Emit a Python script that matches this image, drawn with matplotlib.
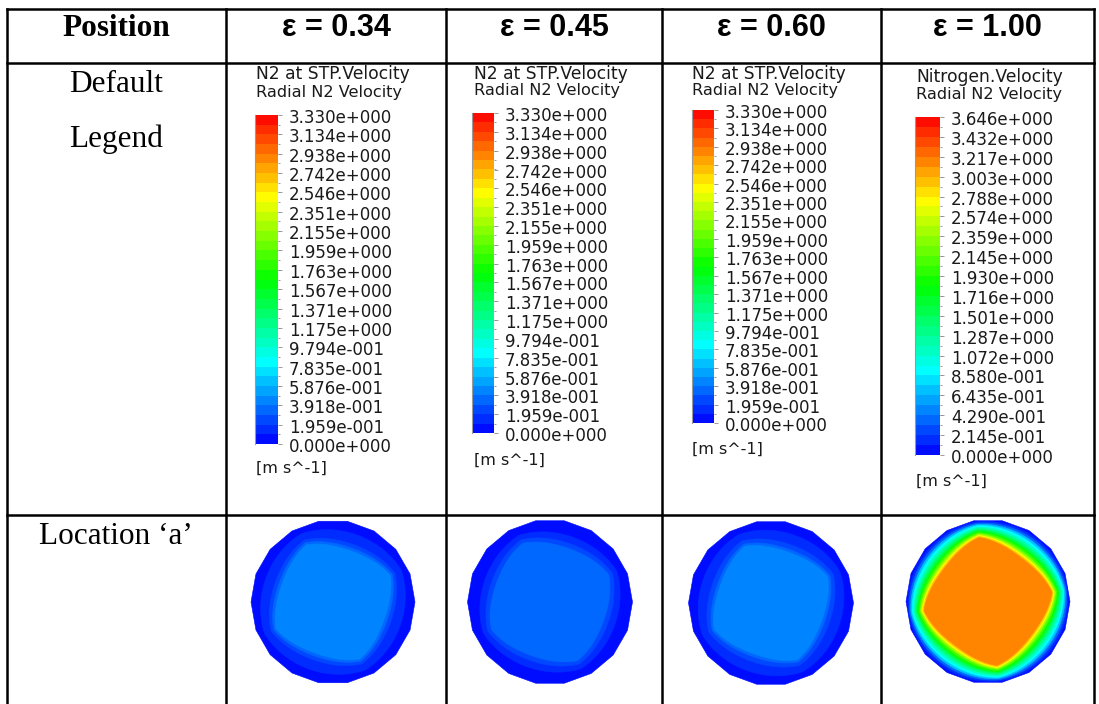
import numpy as np
import matplotlib
matplotlib.use('Agg')
import matplotlib.pyplot as plt
from matplotlib.colors import LinearSegmentedColormap, ListedColormap, BoundaryNorm
from matplotlib.cm import ScalarMappable
from matplotlib.patches import Polygon
from matplotlib.ticker import FixedLocator
from matplotlib.transforms import ScaledTranslation, blended_transform_factory

W, H = 1099, 704

# table text
header_row = ['Position', 'ε = 0.34', 'ε = 0.45', 'ε = 0.60', 'ε = 1.00']
legend_row_label = ['Default', 'Legend']
location_label = 'Location ‘a’'

# legend scales [m/s]
ticks_n2 = [0.0, 0.1959, 0.3918, 0.5876, 0.7835, 0.9794, 1.175, 1.371, 1.567,
            1.763, 1.959, 2.155, 2.351, 2.546, 2.742, 2.938, 3.134, 3.330]
ticks_nitrogen = [0.0, 0.2145, 0.4290, 0.6435, 0.8580, 1.072, 1.287, 1.501, 1.716,
                  1.930, 2.145, 2.359, 2.574, 2.788, 3.003, 3.217, 3.432, 3.646]
legend_titles = [('N2 at STP.Velocity', 'Radial N2 Velocity'),
                 ('N2 at STP.Velocity', 'Radial N2 Velocity'),
                 ('N2 at STP.Velocity', 'Radial N2 Velocity'),
                 ('Nitrogen.Velocity', 'Radial N2 Velocity')]
legend_ticks = [ticks_n2, ticks_n2, ticks_n2, ticks_nitrogen]
unit_label = '[m s^-1]'

# contour bands at location 'a': edge radius of each band (fraction of pipe
# radius) and the velocity inside that edge
bands_034_r = [1.00, 0.90, 0.80, 0.76, 0.73]
bands_034_v = [0.05, 0.15, 0.25, 0.35, 0.45]
bands_045_r = [1.00, 0.87, 0.80, 0.75]
bands_045_v = [0.05, 0.15, 0.25, 0.35]
bands_060_r = [1.00, 0.90, 0.80, 0.75, 0.72]
bands_060_v = [0.05, 0.15, 0.25, 0.35, 0.45]
bands_100_r = [1.00, 0.975, 0.955, 0.935, 0.915, 0.895, 0.875, 0.855, 0.835,
               0.815, 0.795, 0.775, 0.760, 0.745]
bands_100_v = [0.05, 0.20, 0.40, 0.65, 0.90, 1.10, 1.35, 1.60, 1.85,
               2.10, 2.40, 2.70, 2.95, 3.16]
band_sets = [(bands_034_r, bands_034_v), (bands_045_r, bands_045_v),
             (bands_060_r, bands_060_v), (bands_100_r, bands_100_v)]

# layout in pixels
col_x = [7, 226, 446, 662, 881, 1094]
row_y = [9, 63, 515]
bar_boxes = [(255, 278, 115, 444), (472, 494, 113, 433),
             (692, 714, 110, 423), (915, 940, 117, 455)]
title_pos = [(256, 74, 92), (474, 74, 91), (692, 74, 91), (916, 77, 95)]
unit_y = [468, 460, 449, 481]
circles = [(333, 602, 82, 25), (550, 602, 82.5, 25),
           (771, 603, 82.5, 25), (988, 601.5, 82, 8)]
core_amp = [0.15, 0.13, 0.15, 0.16]

n_bands = 34
base = LinearSegmentedColormap.from_list(
    'cfx', ['#0000ff', '#00ffff', '#00ff00', '#ffff00', '#ff0000'])
cfx = ListedColormap(base((np.arange(n_bands) + 0.5) / n_bands))


def ansys_fmt(v):
    if v == 0:
        return '0.000e+000'
    e = int(np.floor(np.log10(abs(v))))
    m = v / 10 ** e
    return f'{m:.3f}e{e:+04d}'


def band_outline(cx, cy, radius, rho, amp, corner_deg, n=360):
    th = np.linspace(0, 2 * np.pi, n, endpoint=False)
    phi = th - np.radians(corner_deg)
    r = radius * rho * (1 + amp * (0.36 - np.abs(np.sin(2 * phi))))
    return np.column_stack([cx + r * np.cos(th), cy - r * np.sin(th)])


fig = plt.figure(figsize=(W / 100, H / 100), dpi=100)
ax = fig.add_axes([0, 0, 1, 1])
ax.set_xlim(0, W)
ax.set_ylim(H, 0)
ax.axis('off')

# table grid
lw = 1.8
for x in col_x:
    ax.plot([x, x], [row_y[0], H], color='black', lw=lw, solid_capstyle='projecting')
for y in row_y:
    ax.plot([col_x[0], col_x[-1]], [y, y], color='black', lw=lw, solid_capstyle='projecting')

# header row
ax.text((col_x[0] + col_x[1]) / 2, 29, header_row[0], ha='center', va='center',
        family='Liberation Serif', fontweight='bold', fontsize=22.5)
for i in range(1, 5):
    ax.text((col_x[i] + col_x[i + 1]) / 2, 28, header_row[i], ha='center', va='center',
            family='Liberation Sans', fontweight='bold', fontsize=22)

# first column
ax.text(116, 84, legend_row_label[0], ha='center', va='center',
        family='Liberation Serif', fontsize=22.5)
ax.text(116, 139, legend_row_label[1], ha='center', va='center',
        family='Liberation Serif', fontsize=22.5)
ax.text(116, 537, location_label, ha='center', va='center',
        family='Liberation Serif', fontsize=22.5)

# legends
for k in range(4):
    ticks = legend_ticks[k]
    vmax = ticks[-1]
    bounds = np.linspace(0, vmax, n_bands + 1)
    norm = BoundaryNorm(bounds, n_bands)
    x0, x1, y0, y1 = bar_boxes[k]
    cax = fig.add_axes([x0 / W, 1 - y1 / H, (x1 - x0) / W, (y1 - y0) / H])
    cb = fig.colorbar(ScalarMappable(norm=norm, cmap=cfx), cax=cax, ticks=ticks)
    cb.outline.set_visible(False)
    cax.spines['left'].set_visible(True)
    cax.spines['left'].set_color('#9a9a9a')
    cax.spines['left'].set_linewidth(0.8)
    cax.yaxis.set_minor_locator(FixedLocator(bounds))
    cax.tick_params(which='both', right=True, left=False, labelright=False,
                    direction='out', color='#8a8a8a', width=0.6)
    cax.tick_params(which='major', length=3)
    cax.tick_params(which='minor', length=1.5)
    tr = blended_transform_factory(cax.transAxes, cax.transData) + \
        ScaledTranslation(11 / 100, -3 / 100, fig.dpi_scale_trans)
    for v in ticks:
        cax.text(1.0, v, ansys_fmt(v), transform=tr, ha='left', va='center',
                 family='DejaVu Sans', fontsize=12, color='#1a1a1a', clip_on=False)

    tx, ty1, ty2 = title_pos[k]
    ax.text(tx, ty1, legend_titles[k][0], ha='left', va='center',
            family='DejaVu Sans', fontsize=12.3, color='#1a1a1a')
    ax.text(tx, ty2, legend_titles[k][1], ha='left', va='center',
            family='DejaVu Sans', fontsize=11.6, color='#1a1a1a')
    ax.text(tx, unit_y[k], unit_label, ha='left', va='center',
            family='DejaVu Sans', fontsize=11.5, color='#1a1a1a')

    # velocity contours at location 'a'
    cx, cy, radius, corner = circles[k]
    radii, vals = band_sets[k]
    rho_core = radii[-1]
    for j, (rho, v) in enumerate(zip(radii, vals)):
        color = cfx(norm(v))
        if j == 0:
            th = np.radians(np.arange(18) * 20.0)
            pts = np.column_stack([cx + radius * np.cos(th), cy - radius * np.sin(th)])
        else:
            amp = core_amp[k] * (1 - rho) / (1 - rho_core)
            pts = band_outline(cx, cy, radius, rho, amp, corner)
        ax.add_patch(Polygon(pts, closed=True, facecolor=color, edgecolor=color, lw=0.4))

fig.savefig('out.png', dpi=100)
